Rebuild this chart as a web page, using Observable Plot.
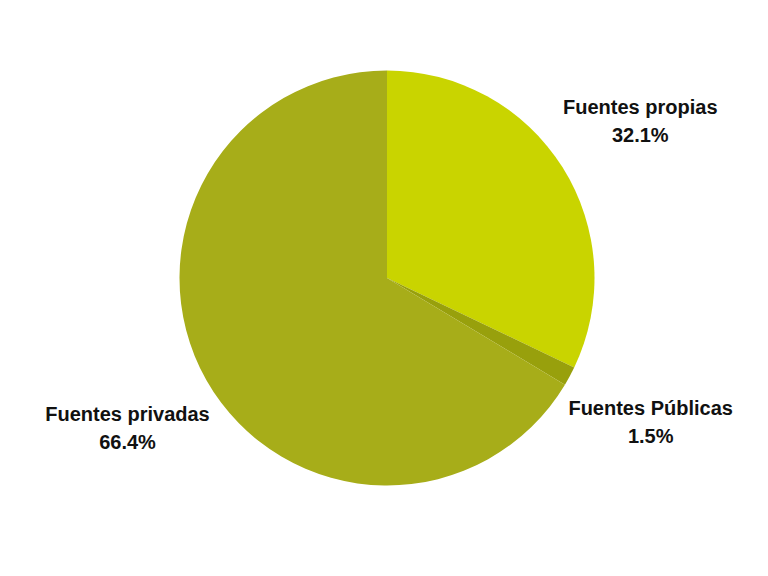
<!DOCTYPE html>
<html>
<head>
<meta charset="utf-8">
<script src="https://cdn.jsdelivr.net/npm/d3@7"></script>
<script src="https://cdn.jsdelivr.net/npm/@observablehq/plot@0.6"></script>
<style>
  html, body { margin: 0; padding: 0; background: #ffffff; }
</style>
</head>
<body>
<div id="chart"></div>
<script>
const categories = ["Fuentes propias", "Fuentes Públicas", "Fuentes privadas"];
const values = [32.1, 1.5, 66.4];
const labels = ["32.1%", "1.5%", "66.4%"];
const colors = ["#c9d400", "#98a00c", "#a7ad19"];

const pie = d3.pie().sort(null).value(d => d.value);
const data = pie(categories.map((c, i) => ({category: c, value: values[i], label: labels[i], color: colors[i]})));

const labelRadius = 1.44;
const labelData = data.map(d => {
  const a = (d.startAngle + d.endAngle) / 2;
  return {x: labelRadius * Math.sin(a), y: labelRadius * Math.cos(a), text: d.data.category + "\n" + d.data.label};
});

function pieMark(index, scales, values, dimensions, context) {
  const cx = scales.x(0), cy = scales.y(0);
  const r = Math.abs(scales.x(1) - scales.x(0));
  const arc = d3.arc().innerRadius(0).outerRadius(r);
  const g = d3.create("svg:g").attr("transform", `translate(${cx},${cy})`);
  g.selectAll("path").data(data).join("path")
    .attr("d", arc)
    .attr("fill", d => d.data.color);
  return g.node();
}

const chart = Plot.plot({
  width: 768,
  height: 576,
  margin: 0,
  x: {domain: [-1, 1], range: [179.5, 594.5], axis: null},
  y: {domain: [-1, 1], range: [485.5, 70.5], axis: null},
  style: {background: "#ffffff"},
  marks: [
    pieMark,
    Plot.text(labelData, {
      x: "x", y: "y", text: "text",
      fontSize: 20, fontWeight: "bold", fontFamily: "Liberation Sans, Arial, sans-serif",
      fill: "#111111", lineHeight: 1.4, textAnchor: "middle"
    })
  ]
});
document.getElementById("chart").appendChild(chart);
</script>
</body>
</html>
